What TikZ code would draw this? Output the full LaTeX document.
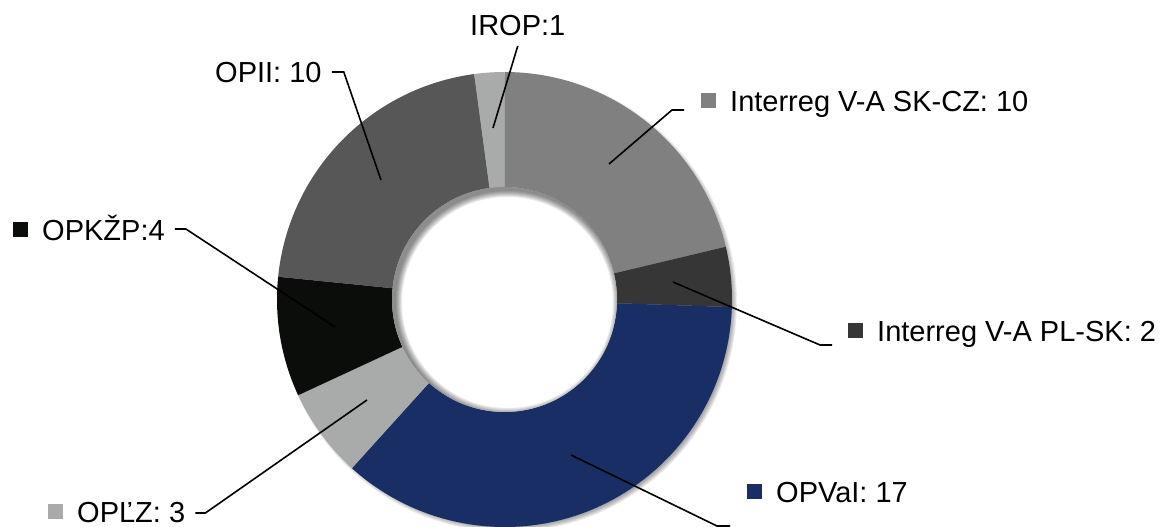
\documentclass[tikz,border=0pt]{standalone}
\usepackage{fontspec}
\setmainfont{Liberation Sans}
\usetikzlibrary{positioning,calc}
\definecolor{cSKCZ}{HTML}{808080}
\definecolor{cPLSK}{HTML}{363636}
\definecolor{cOPVAI}{HTML}{182E64}
\definecolor{cOPLZ}{HTML}{A9ABAA}
\definecolor{cOPKZP}{HTML}{0B0D0A}
\definecolor{cOPII}{HTML}{575757}
\definecolor{cIROP}{HTML}{A9ABAA}
\tikzstyle{lbl}=[inner sep=0pt, anchor=base west, font=\fontsize{29}{34}\selectfont]
\tikzstyle{pline}=[-, line width=1.6pt]
\tikzstyle{shd}=[black, opacity=0.07]
\newcommand{\lgsq}[1]{\textcolor{#1}{\raisebox{4pt}{\rule{15pt}{15pt}}}\hspace{14pt}}
\begin{document}
\begin{tikzpicture}[x=1pt,y=1pt]
\useasboundingbox (0,0) rectangle (1165,527);
\coordinate (C) at (504.5,227.5);

% drop shadow
\foreach \k in {0,...,5}
  \fill[shd] ([shift={(3,-3)}]C) circle[radius=229.5-\k];

% ring segments, clockwise from the top
\foreach \a/\b/\c in {90/13.40/cSKCZ, 13.40/-1.91/cPLSK, -1.91/-132.13/cOPVAI,
  -132.13/-155.11/cOPLZ, -155.11/-185.74/cOPKZP, -185.74/-262.34/cOPII, -262.34/-270/cIROP}
  \fill[\c] ([shift={(\a:227.5)}]C) arc[start angle=\a, end angle=\b, radius=227.5]
    -- ([shift={(\b:112.5)}]C) arc[start angle=\b, end angle=\a, radius=112.5] -- cycle;

% hole with inner shadow
\fill[white] (C) circle[radius=112.5];
\begin{scope}
\clip (C) circle[radius=112.5];
\foreach \k in {1,...,7}
  \fill[black, opacity=0.08, even odd rule] (C) circle[radius=130]
    ([shift={(3,-3)}]C) circle[radius=112.5-\k];
\end{scope}

\coordinate (pIROP) at (493,399);
\coordinate (pSKCZ) at (609,363);
\coordinate (pOPII) at (381,347);
\coordinate (pOPKZP) at (335,200);
\coordinate (pOPLZ) at (367,127);
\coordinate (pPLSK) at (673,245);
\coordinate (pOPVAI) at (571,72);

\node (lIROP) [lbl] at (470,491) {IROP:1};
\node (lSKCZ) [lbl] at (701,415) {\lgsq{cSKCZ}Interreg V-A SK-CZ: 10};
\node (lOPII) [lbl] at (215,444) {OPII: 10};
\node (lOPKZP) [lbl] at (13,286) {\lgsq{cOPKZP}OPKŽP:4};
\node (lOPLZ) [lbl] at (48,4) {\lgsq{cOPLZ}OPĽZ: 3};
\node (lPLSK) [lbl] at (848,185) {\lgsq{cPLSK}Interreg V-A PL-SK: 2};
\node (lOPVAI) [lbl] at (747,24) {\lgsq{cOPVAI}OPVaI: 17};

\draw[pline] (lIROP.base) ++(0,-10) -- (pIROP);
\draw[pline] (lSKCZ.base west) ++(-17,2) -- ++(-12,0) -- (pSKCZ);
\draw[pline] (lOPII.base east) ++(10,11) -- ++(12,0) -- (pOPII);
\draw[pline] (lOPKZP.base east) ++(10,12) -- ++(11,0) -- (pOPKZP);
\draw[pline] (lOPLZ.base east) ++(10,10) -- ++(10,0) -- (pOPLZ);
\draw[pline] (lPLSK.base west) ++(-16,-3) -- ++(-12,0) -- (pPLSK);
\draw[pline] (lOPVAI.base west) ++(-17,-23) -- ++(-13,0) -- (pOPVAI);

\end{tikzpicture}
\end{document}
